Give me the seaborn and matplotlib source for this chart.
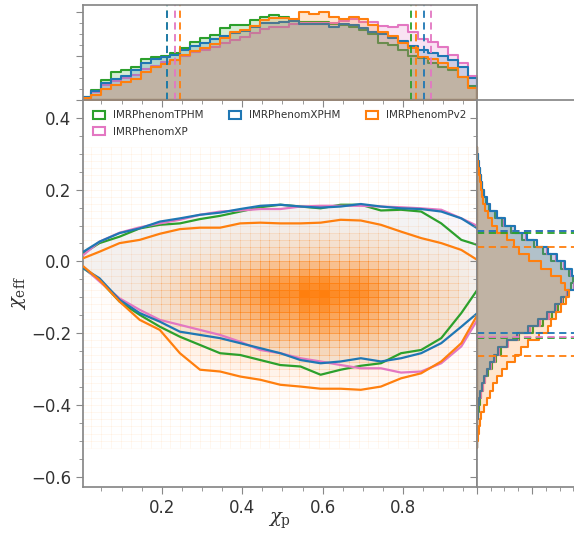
import numpy as np
import pandas as pd
import seaborn as sns
import matplotlib.pyplot as plt
from matplotlib.patches import Patch
from matplotlib.ticker import MultipleLocator
from matplotlib.colors import LinearSegmentedColormap

sns.set_theme(style="ticks")
plt.rcParams["mathtext.fontset"] = "dejavuserif"
plt.rcParams["axes.edgecolor"] = "#888888"

models = ["IMRPhenomTPHM", "IMRPhenomXP", "IMRPhenomXPHM", "IMRPhenomPv2"]
colors = ["#2ca02c", "#e377c2", "#1f77b4", "#ff7f0e"]

# chi_p marginals (40 bins from 0 to 0.985), arbitrary height units
chip_edges = np.linspace(0, 0.985, 41)
chip_tphm = [3, 10, 20, 28, 30, 33, 41, 43, 44, 47, 52, 58, 62, 65, 72, 75, 75, 80, 83, 85,
             83, 80, 78, 78, 78, 76, 75, 73, 70, 66, 57, 55, 50, 44, 42, 37, 33, 30, 23, 14]
chip_xp = [2, 8, 15, 19, 22, 25, 31, 34, 38, 40, 44, 48, 50, 53, 57, 60, 63, 67, 71, 73,
           73, 76, 77, 77, 77, 77, 79, 81, 78, 78, 74, 73, 75, 68, 61, 58, 53, 45, 37, 24]
chip_xphm = [3, 9, 17, 21, 24, 30, 37, 41, 43, 45, 50, 54, 57, 61, 64, 67, 69, 73, 77, 77,
             78, 79, 76, 76, 76, 73, 76, 75, 72, 68, 66, 62, 59, 54, 50, 47, 44, 40, 33, 22]
chip_pv2 = [2, 5, 11, 15, 18, 21, 28, 33, 36, 40, 45, 49, 52, 56, 62, 68, 70, 74, 80, 82,
            82, 81, 88, 86, 88, 83, 81, 83, 81, 75, 68, 64, 57, 52, 43, 41, 37, 32, 23, 12]

# chi_eff marginals (42 bins from -0.52 to 0.32), listed from bottom to top
chieff_edges = np.linspace(-0.52, 0.32, 43)
chieff_tphm = [0, 0, 0.3, 0.5, 1, 2, 3, 4, 6, 8, 11, 15, 19, 24, 30, 42, 56, 66, 75, 81, 86,
               90, 94, 96, 92, 84, 74, 66, 57, 45, 34, 25, 18, 12, 9, 7, 5, 4, 3, 1.5, 1, 0.3]
chieff_xp = [0, 0, 0.3, 0.5, 1, 1.5, 2.5, 4, 6, 8, 10, 14, 18, 22, 31, 41, 53, 63, 72, 79, 85,
             90, 97, 99, 94, 87, 79, 70, 60, 49, 38, 27, 20, 13, 10, 7, 5, 4, 3, 2, 1, 0.5]
chieff_xphm = [0, 0, 0.3, 0.5, 1, 1.5, 2, 3.5, 5, 7, 10, 13, 17, 21, 30, 40, 51, 61, 70, 78, 84,
               91, 98, 100, 95, 88, 80, 71, 60, 50, 38, 28, 20, 13, 10, 7, 5, 4, 3, 2, 1, 0.5]
chieff_pv2 = [0.5, 1, 2, 3, 4, 7, 10, 13, 16, 20, 25, 30, 38, 44, 51, 62, 71, 74, 79, 84, 89,
              92, 88, 84, 74, 64, 52, 42, 37, 30, 20, 15, 11, 8, 6, 5, 4, 3, 2, 1, 0.5, 0]

# 5% / 95% quantiles
qchip_lo = [0.212, 0.232, 0.212, 0.245]
qchip_hi = [0.819, 0.870, 0.853, 0.833]
qchieff_lo = [-0.214, -0.210, -0.200, -0.263]
qchieff_hi = [0.080, 0.086, 0.086, 0.040]

# 90% credible contours: upper and lower boundary vs chi_p
cont_x = [0.005, 0.045, 0.095, 0.145, 0.195, 0.245, 0.295, 0.345, 0.395, 0.445, 0.495,
          0.545, 0.595, 0.645, 0.695, 0.745, 0.795, 0.845, 0.895, 0.945, 0.985]
up_tphm = [0.023, 0.051, 0.069, 0.092, 0.102, 0.106, 0.118, 0.127, 0.139, 0.151, 0.158,
           0.153, 0.148, 0.158, 0.158, 0.142, 0.144, 0.139, 0.106, 0.060, 0.046]
lo_tphm = [-0.019, -0.052, -0.112, -0.149, -0.182, -0.210, -0.233, -0.256, -0.261, -0.275, -0.289,
           -0.293, -0.316, -0.302, -0.291, -0.284, -0.256, -0.247, -0.214, -0.144, -0.079]
up_xp = [0.018, 0.055, 0.080, 0.095, 0.106, 0.116, 0.130, 0.139, 0.142, 0.146, 0.146,
         0.153, 0.155, 0.155, 0.155, 0.153, 0.151, 0.148, 0.144, 0.120, 0.099]
lo_xp = [-0.016, -0.056, -0.103, -0.135, -0.163, -0.177, -0.191, -0.205, -0.224, -0.247, -0.256,
         -0.270, -0.279, -0.289, -0.298, -0.298, -0.310, -0.307, -0.284, -0.237, -0.163]
up_xphm = [0.027, 0.055, 0.079, 0.092, 0.111, 0.120, 0.130, 0.136, 0.146, 0.155, 0.158,
           0.153, 0.150, 0.153, 0.160, 0.153, 0.148, 0.146, 0.139, 0.120, 0.092]
lo_xphm = [-0.019, -0.047, -0.107, -0.144, -0.168, -0.196, -0.205, -0.214, -0.228, -0.242, -0.256,
           -0.275, -0.284, -0.279, -0.270, -0.279, -0.270, -0.256, -0.228, -0.182, -0.144]
up_pv2 = [0.009, 0.027, 0.051, 0.060, 0.077, 0.090, 0.094, 0.094, 0.106, 0.108, 0.106,
          0.106, 0.108, 0.116, 0.114, 0.102, 0.083, 0.065, 0.051, 0.032, 0.004]
lo_pv2 = [-0.014, -0.052, -0.112, -0.163, -0.191, -0.256, -0.302, -0.307, -0.321, -0.330, -0.344,
          -0.349, -0.355, -0.355, -0.358, -0.349, -0.326, -0.312, -0.279, -0.228, -0.149]

chip_hists = [chip_tphm, chip_xp, chip_xphm, chip_pv2]
chieff_hists = [chieff_tphm, chieff_xp, chieff_xphm, chieff_pv2]
uppers = [up_tphm, up_xp, up_xphm, up_pv2]
lowers = [lo_tphm, lo_xp, lo_xphm, lo_pv2]

chip_c = (chip_edges[:-1] + chip_edges[1:]) / 2
chieff_c = (chieff_edges[:-1] + chieff_edges[1:]) / 2

fig = plt.figure(figsize=(5.74, 5.35), dpi=100)
W, H = 574, 535
ax = fig.add_axes([83 / W, 1 - 487 / H, 394 / W, 387 / H])
ax_top = fig.add_axes([83 / W, 1 - 100 / H, 394 / W, 95 / H], sharex=ax)
ax_right = fig.add_axes([477 / W, 1 - 487 / H, 110 / W, 387 / H], sharey=ax)

# contour fills (faint)
for up, lo, c in zip(uppers, lowers, colors):
    ax.fill_between(cont_x, lo, up, color=c, alpha=0.025, lw=0, zorder=1)

# 2d density of IMRPhenomPv2 from its marginals
gx, gy = np.meshgrid(chip_c, chieff_c, indexing="ij")
heat = pd.DataFrame({"chi_p": gx.ravel(), "chi_eff": gy.ravel(),
                     "w": np.outer(chip_pv2, chieff_pv2).ravel()})
ramp = np.linspace(0, 1, 256) ** 2.0
cmap = LinearSegmentedColormap.from_list("pv2", [(1, 0.498, 0.055, a) for a in ramp])
sns.histplot(heat, x="chi_p", y="chi_eff", weights="w",
             bins=[list(chip_edges), list(chieff_edges)],
             cmap=cmap, ax=ax, zorder=2, edgecolor=(1, 0.5, 0.06, 0.03), linewidth=0.4)

for up, lo, c in zip(uppers, lowers, colors):
    sns.lineplot(x=cont_x, y=up, color=c, lw=1.6, ax=ax, zorder=3)
    sns.lineplot(x=cont_x, y=lo, color=c, lw=1.6, ax=ax, zorder=3)

# marginals
for h, c in zip(chip_hists, colors):
    df = pd.DataFrame({"chi_p": chip_c, "w": h})
    sns.histplot(df, x="chi_p", weights="w", bins=list(chip_edges), element="step",
                 fill=True, alpha=0.2, color=c, linewidth=1.5, ax=ax_top)
for h, c in zip(chieff_hists, colors):
    df = pd.DataFrame({"chi_eff": chieff_c, "w": h})
    sns.histplot(df, y="chi_eff", weights="w", bins=list(chieff_edges), element="step",
                 fill=True, alpha=0.2, color=c, linewidth=1.5, ax=ax_right)
for i, c in enumerate(colors):
    ax_top.axvline(qchip_lo[i], color=c, ls=(0, (4, 2.5)), lw=1.3)
    ax_top.axvline(qchip_hi[i], color=c, ls=(0, (4, 2.5)), lw=1.3)
    ax_right.axhline(qchieff_lo[i], color=c, ls=(0, (4, 2.5)), lw=1.3)
    ax_right.axhline(qchieff_hi[i], color=c, ls=(0, (4, 2.5)), lw=1.3)

ax.set_xlim(0.004, 0.984)
ax.set_ylim(-0.629, 0.45)
ax_top.set_ylim(0, 95)
ax_right.set_xlim(0, 110)

ax.xaxis.set_major_locator(MultipleLocator(0.2))
ax.xaxis.set_minor_locator(MultipleLocator(0.05))
ax.yaxis.set_major_locator(MultipleLocator(0.2))
ax.yaxis.set_minor_locator(MultipleLocator(0.05))
ax_top.yaxis.set_major_locator(MultipleLocator(44))
ax_top.yaxis.set_minor_locator(MultipleLocator(11))
ax_right.xaxis.set_major_locator(MultipleLocator(55))
ax_right.xaxis.set_minor_locator(MultipleLocator(13.75))

for a in (ax, ax_top, ax_right):
    a.tick_params(which="major", length=5, width=0.8, color="#888888", direction="out")
    a.tick_params(which="minor", length=3, width=0.6, color="#888888", direction="out")
    a.set_xlabel("")
    a.set_ylabel("")
ax.tick_params(labelsize=12, labelcolor="#333333")
ax_top.tick_params(labelbottom=False, labelleft=False)
ax_right.tick_params(labelbottom=False, labelleft=False)

ax.set_xlabel(r"$\chi_{\rm p}$", fontsize=14, color="#333333")
ax.set_ylabel(r"$\chi_{\rm eff}$", fontsize=14, color="#333333", labelpad=2)
ax.xaxis.set_label_coords(0.5, -0.062)

handles = [Patch(facecolor="white", edgecolor=c, lw=1.5) for c in colors]
ax.legend(handles, models, ncol=3, loc="upper left", bbox_to_anchor=(0, 1, 1, 0),
          mode="expand", frameon=False, fontsize=7.5, handlelength=1.1, handleheight=0.8,
          labelcolor="#333333", borderaxespad=0.6, labelspacing=0.6)

fig.savefig("out.png", dpi=100)
